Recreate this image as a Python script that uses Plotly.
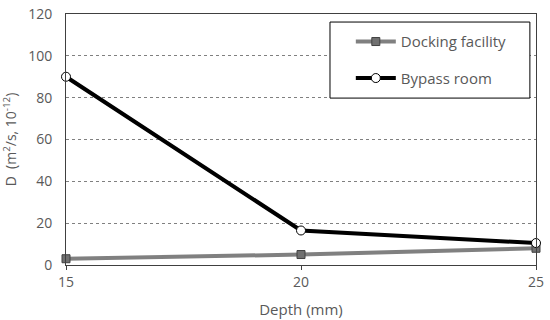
import plotly.graph_objects as go

depth = [15, 20, 25]
docking = [3, 5, 8]
bypass = [90, 16.5, 10.5]
y_ticks = [0, 20, 40, 60, 80, 100, 120]

FONT = "Open Sans"
GREY = "#595959"

fig = go.Figure()
fig.add_trace(go.Scatter(
    x=depth, y=docking, name="Docking facility", mode="lines+markers",
    line=dict(color="#808080", width=4),
    marker=dict(symbol="square", size=8, color="#707070", line=dict(color="#404040", width=1)),
    legendgroup="a", cliponaxis=False,
))
fig.add_trace(go.Scatter(
    x=depth, y=bypass, name="Bypass room", mode="lines+markers",
    line=dict(color="black", width=4),
    marker=dict(symbol="circle", size=9, color="white", line=dict(color="black", width=1)),
    legendgroup="b", cliponaxis=False,
))

# legend frame (Excel-style box, wider than the entries)
fig.add_shape(type="rect", xref="paper", yref="paper",
              x0=0.5617, x1=0.987, y0=0.665, y1=0.968,
              fillcolor="white", line=dict(color="black", width=1), layer="above")

fig.update_layout(
    width=550, height=320,
    margin=dict(l=66, r=14, t=14, b=55, autoexpand=False),
    paper_bgcolor="white", plot_bgcolor="white",
    font=dict(family=FONT, color=GREY, size=14),
    showlegend=True,
    legend=dict(
        x=0.606, y=0.955, xanchor="left", yanchor="top",
        bgcolor="rgba(0,0,0,0)", borderwidth=0,
        font=dict(size=15, color=GREY),
        tracegroupgap=14, itemwidth=40,
    ),
    xaxis=dict(
        range=[15, 25], tickvals=depth, showgrid=False, automargin=False,
        showline=True, linecolor="#404040", linewidth=1, mirror=True,
        ticks="outside", ticklen=4, tickcolor="#404040",
        title=dict(text="Depth (mm)", font=dict(size=15, color=GREY), standoff=14),
        tickfont=dict(size=14, color=GREY), zeroline=False,
    ),
    yaxis=dict(
        range=[0, 120], tickvals=y_ticks, showgrid=True, automargin=False,
        gridcolor="#808080", griddash="dot", gridwidth=1,
        showline=True, linecolor="#404040", linewidth=1, mirror=True,
        ticks="", zeroline=False, ticklabelstandoff=10,
        title=dict(text="D  (m<sup>2</sup>/s, 10<sup>-12</sup>)", font=dict(size=14, color=GREY), standoff=8),
        tickfont=dict(size=14, color=GREY),
    ),
)

fig.write_html("out.html", config={"displayModeBar": False},
               post_script="document.body.style.margin='0';")
